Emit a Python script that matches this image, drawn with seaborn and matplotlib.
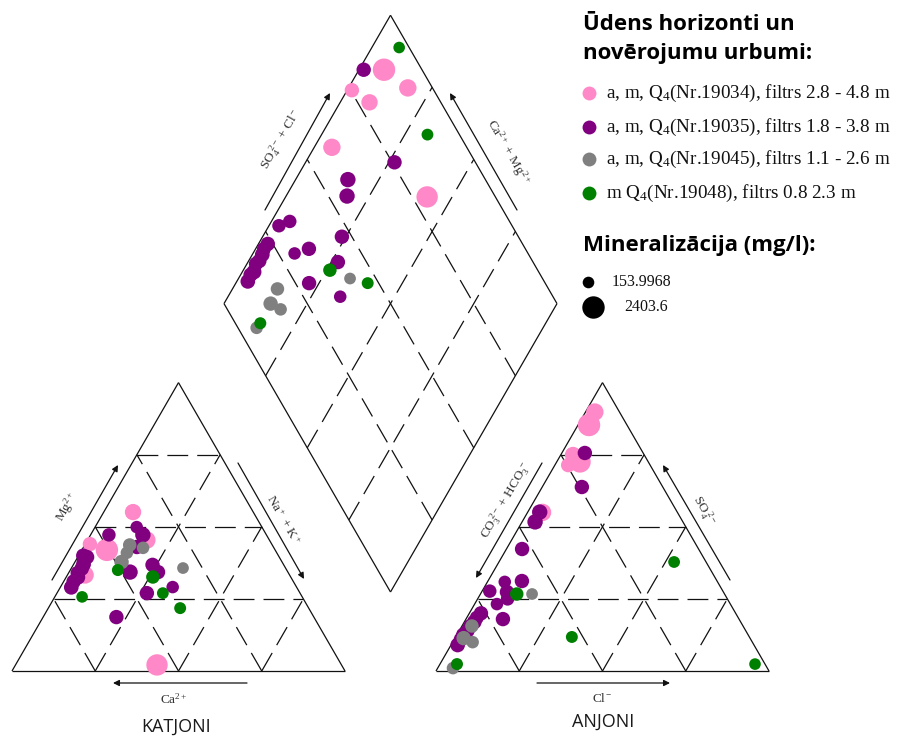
import numpy as np
import pandas as pd
import matplotlib
matplotlib.use("Agg")
import matplotlib.pyplot as plt
import seaborn as sns

# ---------------------------------------------------------------------------
# Observation wells and their legend labels
# ---------------------------------------------------------------------------
well_keys = ["19034", "19035", "19045", "19048"]
well_labels = [
    r"a, m, $\mathrm{Q}_4$(Nr.19034), filtrs 2.8 - 4.8 m",
    r"a, m, $\mathrm{Q}_4$(Nr.19035), filtrs 1.8 - 3.8 m",
    r"a, m, $\mathrm{Q}_4$(Nr.19045), filtrs 1.1 - 2.6 m",
    r"m $\mathrm{Q}_4$(Nr.19048), filtrs 0.8 2.3 m",
]
well_colors = ["#ff88c8", "#800080", "#808080", "#008000"]

# ---------------------------------------------------------------------------
# Sample chemistry (% meq): cations Mg, Na+K (Ca = rest); anions SO4, Cl
# (HCO3+CO3 = rest); mineralisation in mg/l
# ---------------------------------------------------------------------------
mg_19034 = [42.0, 44.0, 55.1, 45.4, 33.3, 2.1]
nak_19034 = [7.5, 1.4, 8.8, 17.8, 5.3, 42.5]
so4_19034 = [85.3, 71.4, 74.9, 89.8, 55.0, 72.5]
cl_19034 = [3.3, 4.0, 3.7, 2.8, 4.5, 7.0]
tds_19034 = [2403.6, 600, 970, 1180, 1180, 2130]

mg_19035 = [40.0, 34.3, 47.2, 34.3, 47.2, 36.0, 36.8, 43.0, 49.9, 27.0, 18.7, 29.1,
            39.5, 38.0, 37.0, 35.5, 34.0, 32.5, 31.0, 29.0]
nak_19035 = [1.4, 26.7, 15.7, 18.3, 5.5, 3.0, 23.8, 16.0, 12.5, 27.0, 22.0, 33.7,
             2.8, 2.5, 3.0, 3.2, 2.7, 3.5, 3.0, 3.3]
so4_19035 = [75.6, 63.8, 55.1, 51.7, 25.0, 27.7, 42.3, 27.4, 23.2, 31.2, 18.0, 30.9,
             20.0, 18.5, 17.0, 15.5, 14.0, 12.5, 11.0, 9.0]
cl_19035 = [6.9, 11.9, 3.6, 3.9, 9.0, 2.3, 4.7, 7.6, 6.7, 10.2, 11.1, 5.2,
            3.5, 3.0, 3.0, 2.5, 2.5, 2.0, 2.0, 2.0]
tds_19035 = [600, 600, 780, 780, 440, 440, 600, 600, 290, 600, 600, 290,
             600, 520, 650, 600, 560, 700, 600, 640]

mg_19045 = [43.7, 37.8, 42.7, 35.7, 41.0]
nak_19045 = [13.5, 14.0, 18.0, 33.5, 14.0]
so4_19045 = [15.6, 11.4, 10.0, 26.7, 1.0]
cl_19045 = [3.0, 2.6, 6.0, 15.5, 4.6]
tds_19045 = [440, 600, 290, 170, 290]

mg_19048 = [25.7, 27.0, 32.6, 21.8, 35.0]
nak_19048 = [8.2, 31.8, 26.0, 39.6, 14.3]
so4_19048 = [2.4, 37.8, 26.7, 11.8, 2.4]
cl_19048 = [94.6, 52.6, 10.9, 34.9, 5.1]
tds_19048 = [153.9968, 180, 440, 200, 210]

tds_legend = [153.9968, 2403.6]

# ---------------------------------------------------------------------------
# Piper diagram geometry (canvas units = pixels, y pointing down)
# ---------------------------------------------------------------------------
SIDE = 333.0
H = SIDE * np.sqrt(3) / 2
CAT0 = np.array([12.0, 671.0])     # lower-left corner of the cation triangle
AN0 = np.array([436.0, 671.0])     # lower-left corner of the anion triangle
DIA_B = np.array([390.5, 592.0])   # bottom corner of the diamond
U_DIR = np.array([-SIDE / 2, -H])  # bottom -> left corner of diamond
V_DIR = np.array([SIDE / 2, -H])   # bottom -> right corner of diamond


def cation_xy(mg, nak):
    mg = np.asarray(mg) / 100
    nak = np.asarray(nak) / 100
    return CAT0[0] + SIDE * (nak + 0.5 * mg), CAT0[1] - H * mg


def anion_xy(so4, cl):
    so4 = np.asarray(so4) / 100
    cl = np.asarray(cl) / 100
    return AN0[0] + SIDE * (cl + 0.5 * so4), AN0[1] - H * so4


def diamond_xy(nak, so4, cl):
    camg = 1 - np.asarray(nak) / 100
    scl = (np.asarray(so4) + np.asarray(cl)) / 100
    return DIA_B[0] + SIDE / 2 * (scl - camg), DIA_B[1] - H * (scl + camg)


series = [
    ("19034", mg_19034, nak_19034, so4_19034, cl_19034, tds_19034),
    ("19035", mg_19035, nak_19035, so4_19035, cl_19035, tds_19035),
    ("19045", mg_19045, nak_19045, so4_19045, cl_19045, tds_19045),
    ("19048", mg_19048, nak_19048, so4_19048, cl_19048, tds_19048),
]
frames = {"cat": [], "an": [], "dia": []}
for key, mg, nak, so4, cl, tds in series:
    cx, cy = cation_xy(mg, nak)
    axx, ayy = anion_xy(so4, cl)
    dx, dy = diamond_xy(nak, so4, cl)
    frames["cat"].append(pd.DataFrame({"x": cx, "y": cy, "well": key, "tds": tds}))
    frames["an"].append(pd.DataFrame({"x": axx, "y": ayy, "well": key, "tds": tds}))
    frames["dia"].append(pd.DataFrame({"x": dx, "y": dy, "well": key, "tds": tds}))

# ---------------------------------------------------------------------------
# Figure
# ---------------------------------------------------------------------------
sns.set_theme(style="white")
plt.rcParams["lines.scale_dashes"] = False
plt.rcParams["mathtext.fontset"] = "custom"
plt.rcParams["mathtext.rm"] = "Liberation Serif"
plt.rcParams["mathtext.it"] = "Liberation Serif:italic"
plt.rcParams["font.family"] = ["Liberation Serif", "DejaVu Sans"]

fig = plt.figure(figsize=(9.04, 7.38), dpi=100)
ax = fig.add_axes([0, 0, 1, 1])

LINE = "#111111"
LW = 0.9
DASH = (0, (15, 6.5))


def seg(p, q, **kw):
    ax.plot([p[0], q[0]], [p[1], q[1]], color=LINE, lw=LW,
            solid_capstyle="butt", dash_capstyle="butt", **kw)


def triangle(origin):
    p0 = origin
    p1 = origin + np.array([SIDE, 0])
    p2 = origin + np.array([SIDE / 2, -H])
    for a, b in ((p0, p1), (p1, p2), (p2, p0)):
        seg(a, b)
    for f in (0.25, 0.5, 0.75):
        seg(p0 + f * (p2 - p0), p1 + f * (p2 - p1), linestyle=DASH)
        seg(p0 + f * (p1 - p0), p2 + f * (p1 - p2), linestyle=DASH)
        seg(p1 + f * (p0 - p1), p2 + f * (p0 - p2), linestyle=DASH)


def diamond():
    b = DIA_B
    l = b + U_DIR
    r = b + V_DIR
    t = b + U_DIR + V_DIR
    for a, c in ((b, l), (l, t), (t, r), (r, b)):
        seg(a, c)
    for f in (0.25, 0.5, 0.75):
        seg(b + f * V_DIR, b + f * V_DIR + U_DIR, linestyle=DASH)
        seg(b + f * U_DIR, b + f * U_DIR + V_DIR, linestyle=DASH)


triangle(CAT0)
triangle(AN0)
diamond()

palette = dict(zip(well_keys, well_colors))
SIZES = (70, 260)
SIZE_NORM = (tds_legend[0], tds_legend[1])
for name in ("cat", "an", "dia"):
    df = pd.concat(frames[name], ignore_index=True)
    sns.scatterplot(data=df, x="x", y="y", hue="well", hue_order=well_keys,
                    palette=palette, size="tds", sizes=SIZES, size_norm=SIZE_NORM,
                    linewidth=0, legend=False, ax=ax, zorder=3)


# Axis arrows and ion labels
def arrow(p, q):
    ax.annotate("", xy=q, xytext=p,
                arrowprops=dict(arrowstyle="-|>", color=LINE, lw=0.9,
                                mutation_scale=9, shrinkA=0, shrinkB=0))


ION = dict(fontsize=9.5, color="#333333", ha="center", va="center",
           rotation_mode="anchor")

# cations
arrow((247, 683), (113, 683))
ax.text(174, 699, r"Ca$^{2+}$", **ION)
arrow((52, 580), (118, 465))
ax.text(67, 507, r"Mg$^{2+}$", rotation=60, **ION)
arrow((238, 463), (304, 579))
ax.text(283, 520, r"Na$^+$ + K$^+$", rotation=-60, **ION)
ax.text(176, 727, "KATJONI", fontsize=13, family="Open Sans", color="#1a1a1a",
        ha="center", va="center")

# anions
arrow((537, 683), (670, 683))
ax.text(602, 699, r"Cl$^-$", **ION)
arrow((542, 463), (476, 578))
ax.text(506, 500, r"CO$_3^{\ 2-}$ + HCO$_3^{\ -}$", rotation=60, **ION)
arrow((730, 580), (663, 465))
ax.text(704, 510, r"SO$_4^{\ 2-}$", rotation=-60, **ION)
ax.text(603, 722, "ANJONI", fontsize=13, family="Open Sans", color="#1a1a1a",
        ha="center", va="center")

# diamond
arrow((265, 210), (330, 93))
ax.text(281, 140, r"SO$_4^{\ 2-}$ + Cl$^-$", rotation=60, **ION)
arrow((517, 210), (450, 93))
ax.text(508, 152, r"Ca$^{2+}$ + Mg$^{2+}$", rotation=-60, **ION)

# ---------------------------------------------------------------------------
# Legend block
# ---------------------------------------------------------------------------
TITLE = dict(fontsize=16, family="Open Sans", weight="bold", color="black",
             ha="left", va="center")
ax.text(583, 24, "Ūdens horizonti un", **TITLE)
ax.text(583, 54, "novērojumu urbumi:", **TITLE)
item_y = [93, 127, 159, 193]
for yy, col, lab in zip(item_y, well_colors, well_labels):
    ax.scatter([589], [yy], s=100, color=col, linewidth=0, zorder=3)
    ax.text(606, yy, lab, fontsize=13.8, color="#111111", ha="left", va="center")

ax.text(583, 245, "Mineralizācija (mg/l):", **TITLE)


def tds_size(v):
    return SIZES[0] + (v - SIZE_NORM[0]) / (SIZE_NORM[1] - SIZE_NORM[0]) * (SIZES[1] - SIZES[0])


for (xx, yy, tx), v in zip([(588, 282, 612), (593, 307, 624)], tds_legend):
    ax.scatter([xx], [yy], s=tds_size(v), color="black", linewidth=0, zorder=3)
    ax.text(tx, yy, f"{v}", fontsize=11.5, color="#111111", ha="left", va="center")

ax.set_xlim(0, 904)
ax.set_ylim(738, 0)
ax.axis("off")
fig.savefig("out.png", dpi=100, facecolor="white")
